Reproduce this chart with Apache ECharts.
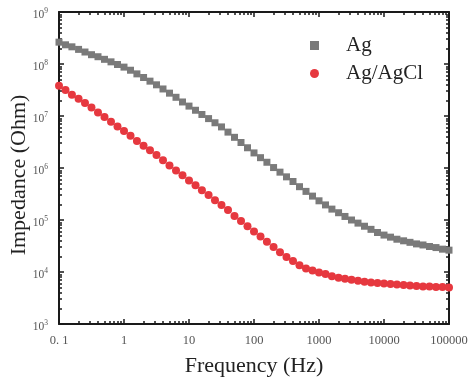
<!DOCTYPE html>
<html><head><meta charset="utf-8">
<script src="https://cdn.jsdelivr.net/npm/echarts@6/dist/echarts.min.js"></script>
<style>html,body{margin:0;padding:0;background:#fff}#c{width:468px;height:381px}</style>
</head><body><div id="c"></div>
<script>
// Frequency (Hz), 10 points per decade
const frequency = [
  0.1, 0.126, 0.158, 0.2, 0.251, 0.316, 0.398, 0.501, 0.631, 0.794,
  1, 1.26, 1.58, 2, 2.51, 3.16, 3.98, 5.01, 6.31, 7.94,
  10, 12.6, 15.8, 20, 25.1, 31.6, 39.8, 50.1, 63.1, 79.4,
  100, 126, 158, 200, 251, 316, 398, 501, 631, 794,
  1000, 1260, 1580, 2000, 2510, 3160, 3980, 5010, 6310, 7940,
  10000, 12600, 15800, 20000, 25100, 31600, 39800, 50100, 63100, 79400,
  100000
];
// Impedance (Ohm) of Ag
const agImpedance = [
  2.63e8, 2.34e8, 2.14e8, 1.91e8, 1.70e8, 1.51e8, 1.38e8, 1.23e8, 1.10e8, 9.77e7,
  8.71e7, 7.59e7, 6.46e7, 5.50e7, 4.68e7, 3.98e7, 3.31e7, 2.75e7, 2.29e7, 1.86e7,
  1.55e7, 1.29e7, 1.07e7, 8.91e6, 7.41e6, 6.17e6, 4.90e6, 3.89e6, 3.09e6, 2.45e6,
  1.95e6, 1.58e6, 1.29e6, 1.02e6, 8.32e5, 6.76e5, 5.50e5, 4.37e5, 3.55e5, 2.88e5,
  2.34e5, 1.95e5, 1.62e5, 1.38e5, 1.17e5, 1.00e5, 8.71e4, 7.59e4, 6.61e4, 5.75e4,
  5.13e4, 4.68e4, 4.27e4, 3.98e4, 3.72e4, 3.47e4, 3.31e4, 3.09e4, 2.95e4, 2.75e4,
  2.63e4
];
// Impedance (Ohm) of Ag/AgCl
const agAgClImpedance = [
  3.80e7, 3.16e7, 2.57e7, 2.14e7, 1.78e7, 1.45e7, 1.17e7, 9.55e6, 7.76e6, 6.31e6,
  5.13e6, 4.17e6, 3.31e6, 2.69e6, 2.19e6, 1.78e6, 1.41e6, 1.12e6, 8.91e5, 7.24e5,
  5.75e5, 4.68e5, 3.72e5, 3.02e5, 2.40e5, 1.95e5, 1.55e5, 1.20e5, 9.55e4, 7.59e4,
  6.03e4, 4.79e4, 3.80e4, 3.02e4, 2.40e4, 1.95e4, 1.62e4, 1.35e4, 1.17e4, 1.07e4,
  9770, 9120, 8320, 7760, 7410, 7080, 6760, 6460, 6310, 6170,
  6030, 5890, 5750, 5620, 5500, 5370, 5250, 5250, 5130, 5130,
  5010
];
const seriesNames = ['Ag', 'Ag/AgCl'];
const xTickLabels = ['0. 1', '1', '10', '100', '1000', '10000', '100000'];
const xDecades = [-1, 0, 1, 2, 3, 4, 5];
const yDecades = [3, 4, 5, 6, 7, 8, 9];

function minorTicks(decades) {
  const out = [];
  for (let i = 0; i < decades.length - 1; i++) {
    for (let k = 2; k <= 9; k++) out.push(decades[i] + Math.log10(k));
  }
  return out;
}
const xMinor = minorTicks(xDecades);
const yMinor = minorTicks(yDecades);

const FONT = 'Liberation Serif';
const AXC = '#1a1a1a';
const GRID = { left: 59, right: 19, top: 12, bottom: 57, containLabel: false, outerBoundsMode: 'none' };

function xAx(grid, pos, ticks, len, line, labels) {
  return {
    gridIndex: grid, type: 'value', position: pos,
    min: xDecades[0], max: xDecades[xDecades.length - 1],
    axisLine: { show: line, onZero: false, lineStyle: { color: AXC, width: 2 } },
    axisTick: { show: true, inside: true, length: len, customValues: ticks, lineStyle: { color: AXC, width: 1.5 } },
    axisLabel: labels ? {
      show: true, customValues: xDecades, margin: 10, color: '#555', fontFamily: FONT, fontSize: 12.5,
      formatter: v => xTickLabels[xDecades.indexOf(Math.round(v))]
    } : { show: false },
    splitLine: { show: false }
  };
}
function yAx(grid, pos, ticks, len, line, labels) {
  return {
    gridIndex: grid, type: 'value', position: pos,
    min: yDecades[0], max: yDecades[yDecades.length - 1],
    axisLine: { show: line, onZero: false, lineStyle: { color: AXC, width: 2 } },
    axisTick: { show: true, inside: true, length: len, customValues: ticks, lineStyle: { color: AXC, width: 1.5 } },
    axisLabel: labels ? {
      show: true, customValues: yDecades, margin: 11, color: '#555', fontFamily: FONT, fontSize: 11.5,
      padding: [5, 0, 0, 0],
      formatter: v => '{b|10}{s|' + Math.round(v) + '}',
      rich: {
        b: { fontFamily: FONT, fontSize: 11.5, color: '#555' },
        s: { fontFamily: FONT, fontSize: 7.5, color: '#555', padding: [0, 0, 7, 0] }
      }
    } : { show: false },
    splitLine: { show: false }
  };
}

const chart = echarts.init(document.getElementById('c'), null, { renderer: 'canvas' });
chart.setOption({
  backgroundColor: '#fff',
  animation: false,
  grid: [Object.assign({}, GRID), Object.assign({}, GRID), Object.assign({}, GRID)],
  legend: {
    data: seriesNames, orient: 'vertical', left: 305, top: 30,
    itemWidth: 9, itemHeight: 9, itemGap: 7,
    textStyle: { fontFamily: FONT, fontSize: 21, color: '#222', padding: [0, 0, 0, 22] }
  },
  xAxis: [
    {
      gridIndex: 0, type: 'log', logBase: 10, min: 0.1, max: 100000, position: 'bottom',
      name: 'Frequency (Hz)', nameLocation: 'middle', nameGap: 31,
      nameTextStyle: { fontFamily: FONT, fontSize: 22, color: '#222' },
      axisLine: { show: false }, axisTick: { show: false }, axisLabel: { show: false },
      splitLine: { show: false }, minorTick: { show: false }
    },
    xAx(1, 'bottom', xDecades, 5, true, true),
    xAx(1, 'top', xDecades, 5, true, false),
    xAx(2, 'bottom', xMinor, 3, false, false),
    xAx(2, 'top', xMinor, 3, false, false)
  ],
  yAxis: [
    {
      gridIndex: 0, type: 'log', logBase: 10, min: 1000, max: 1e9, position: 'left',
      name: 'Impedance (Ohm)', nameLocation: 'middle', nameGap: 29,
      nameTextStyle: { fontFamily: FONT, fontSize: 22, color: '#222', padding: [0, 14, 0, 0] },
      axisLine: { show: false }, axisTick: { show: false }, axisLabel: { show: false },
      splitLine: { show: false }, minorTick: { show: false }
    },
    yAx(1, 'left', yDecades, 5, true, true),
    yAx(1, 'right', yDecades, 5, true, false),
    yAx(2, 'left', yMinor, 3, false, false),
    yAx(2, 'right', yMinor, 3, false, false)
  ],
  series: [
    {
      name: seriesNames[0], type: 'scatter', xAxisIndex: 0, yAxisIndex: 0,
      symbol: 'rect', symbolSize: 7,
      itemStyle: { color: '#7a7a7a', opacity: 1 },
      data: frequency.map((f, i) => [f, agImpedance[i]])
    },
    {
      name: seriesNames[1], type: 'scatter', xAxisIndex: 0, yAxisIndex: 0,
      symbol: 'circle', symbolSize: 8,
      itemStyle: { color: '#e6383f', opacity: 1 },
      data: frequency.map((f, i) => [f, agAgClImpedance[i]])
    }
  ]
});
</script>
</body></html>
